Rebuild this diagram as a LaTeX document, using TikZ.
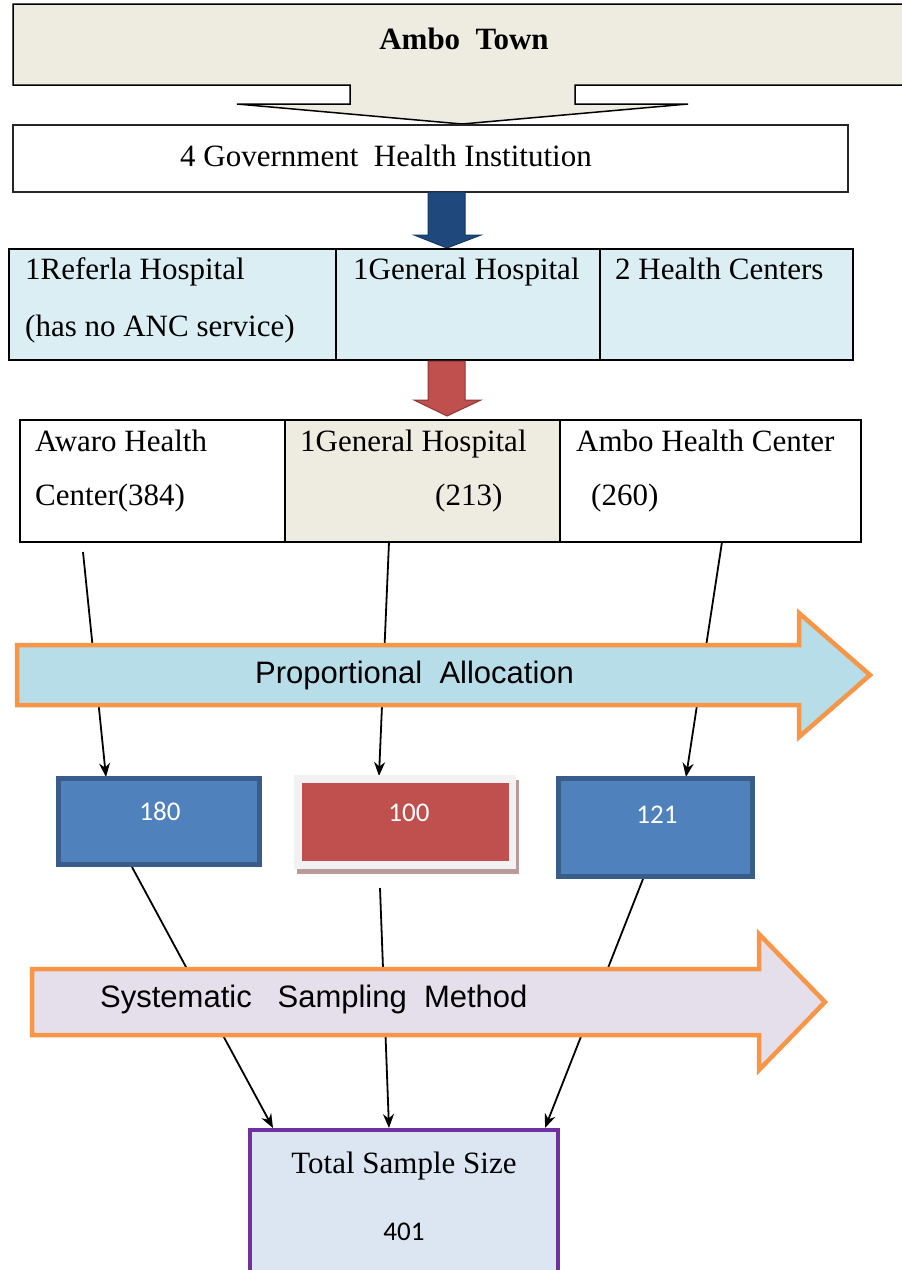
\documentclass[tikz,border=0pt]{standalone}
\usepackage{fontspec}
\setmainfont{Liberation Serif}
\newfontfamily\arialf{Liberation Sans}
\newfontfamily\calibf{Carlito}
\usetikzlibrary{arrows.meta}
\definecolor{ambofill}{HTML}{EEECE1}
\definecolor{rowblue}{HTML}{DAEEF3}
\definecolor{navyfill}{HTML}{1F497D}
\definecolor{navyline}{HTML}{17375E}
\definecolor{redfill}{HTML}{C0504D}
\definecolor{redline}{HTML}{8C3836}
\definecolor{orangeline}{HTML}{F79646}
\definecolor{propfill}{HTML}{B7DDE8}
\definecolor{sysfill}{HTML}{E5DFEC}
\definecolor{smallblue}{HTML}{4F81BD}
\definecolor{smallblueline}{HTML}{385D8A}
\definecolor{framegray}{HTML}{F2F2F2}
\definecolor{shadowpink}{HTML}{B89A9A}
\definecolor{totalfill}{HTML}{DCE6F2}
\definecolor{totalline}{HTML}{7030A0}
\newcommand\serifbig{\fontsize{31}{37}\selectfont}
\newcommand\sansbig{\arialf\fontsize{31}{37}\selectfont}
\newcommand\calibbig{\calibf\fontsize{27}{32}\selectfont}
\begin{document}
\begin{tikzpicture}[x=1pt,y=-1pt,
  cell/.style={draw=black,line width=2pt,inner sep=0,rectangle},
  lbl/.style={inner sep=0,anchor=base west,font=\serifbig},
  clbl/.style={inner sep=0,anchor=base,font=\serifbig},
  numlbl/.style={inner sep=0,anchor=base,font=\calibbig,text=white},
  conn/.style={line width=1.8pt,-{Stealth[length=14pt,width=11pt]}},
  bigarrow/.style={draw=orangeline,line width=4.5pt,line join=miter},
  smallbox/.style={draw=smallblueline,fill=smallblue,line width=5pt,inner sep=0}]
\useasboundingbox (0,0) rectangle (902,1270);
\clip (0,0) rectangle (902,1270);

% Ambo town block arrow
\draw[fill=ambofill,draw=black,line width=1.5pt]
  (13,4) -- (910,4) -- (910,85) -- (575,85) -- (575,104) -- (688,104)
  -- (462,124) -- (237,104) -- (350,104) -- (350,85) -- (13,85) -- cycle;
\node[inner sep=0,anchor=base,font=\serifbig\bfseries] (ambo) at (464,49) {Ambo\ \ Town};

% Government box
\node[cell,draw=black!85,line width=1.5pt,fill=white,minimum width=835pt,minimum height=67pt] (gov) at (430.5,158.5) {};
\node[lbl] (govt) at (180,166) {4 Government\ \ Health Institution};

% navy arrow
\draw[fill=navyfill,draw=navyline,line width=1pt]
  (428,192) -- (465,192) -- (465,235) -- (481,235) -- (447,248) -- (414,235) -- (428,235) -- cycle;

% row 1
\node[cell,fill=rowblue,minimum width=327pt,minimum height=111pt] (r1a) at (172.5,304.5) {};
\node[cell,fill=rowblue,minimum width=264pt,minimum height=111pt] (r1b) at (468,304.5) {};
\node[cell,fill=rowblue,minimum width=253pt,minimum height=111pt] (r1c) at (726.5,304.5) {};
\node[lbl] (r1at) at (25,279) {1Referla Hospital};
\node[lbl] (r1at2) at (25,336) {(has no ANC service)};
\node[lbl] (r1bt) at (353,279) {1General Hospital};
\node[lbl] (r1ct) at (615,279) {2 Health Centers};

% red arrow
\draw[fill=redfill,draw=redline,line width=1pt]
  (428,361) -- (465,361) -- (465,400) -- (481,400) -- (447,416) -- (414,400) -- (428,400) -- cycle;

% row 2
\node[cell,fill=white,minimum width=265pt,minimum height=122pt] (r2a) at (152.5,481) {};
\node[cell,fill=ambofill,minimum width=275pt,minimum height=122pt] (r2b) at (422.5,481) {};
\node[cell,fill=white,minimum width=301pt,minimum height=122pt] (r2c) at (710.5,481) {};
\node[lbl] (r2at) at (35,451) {Awaro Health};
\node[lbl] (r2at2) at (35,505) {Center(384)};
\node[lbl] (r2bt) at (300,451) {1General Hospital};
\node[lbl] (r2bt2) at (435,505) {(213)};
\node[lbl] (r2ct) at (576,451) {Ambo\ Health Center};
\node[lbl] (r2ct2) at (591,505) {(260)};

% connector end points
\coordinate (s1) at (83,552);
\coordinate (s2) at (389,542);
\coordinate (s3) at (722,542);
\coordinate (t1) at (106,777);
\coordinate (t2) at (379,776);
\coordinate (t3) at (686,777);
\coordinate (u1) at (132,867);
\coordinate (u2) at (380,888);
\coordinate (u3) at (643,879);
\coordinate (v1) at (273,1128);
\coordinate (v2) at (389,1128);
\coordinate (v3) at (545,1128);

\draw[conn] (s1) -- (t1);
\draw[conn] (s2) -- (t2);
\draw[conn] (s3) -- (t3);
\draw[conn] (u1) -- (v1);
\draw[conn] (u2) -- (v2);
\draw[conn] (u3) -- (v3);

% proportional allocation arrow
\draw[bigarrow,fill=propfill]
  (17,645) -- (799,645) -- (799,613) -- (870,675) -- (799,737) -- (799,705) -- (17,705) -- cycle;
\node[inner sep=0,anchor=base west,font=\sansbig] (prop) at (255,683) {Proportional\ \ Allocation};

% small boxes
\node[smallbox,minimum width=201pt,minimum height=86pt] (b180) at (159,821.5) {};
\node[numlbl] (n180) at (160,820) {180};
\fill[shadowpink] (297,780) rectangle (519,874);
\node[inner sep=0,fill=framegray,minimum width=222pt,minimum height=94pt] (b100f) at (405,822) {};
\node[inner sep=0,fill=redfill,minimum width=207pt,minimum height=78pt] (b100) at (405.5,822) {};
\node[numlbl] (n100) at (409,821) {100};
\node[smallbox,minimum width=194pt,minimum height=98pt] (b121) at (655.5,827.5) {};
\node[numlbl] (n121) at (657,823) {121};

% systematic sampling arrow
\draw[bigarrow,fill=sysfill]
  (32,969) -- (759,969) -- (759,934) -- (825,1002) -- (759,1070) -- (759,1035) -- (32,1035) -- cycle;
\node[inner sep=0,anchor=base west,font=\sansbig] (sys) at (100,1007) {Systematic\ \ \ Sampling\ \ Method};

% total box
\node[draw=totalline,fill=totalfill,line width=4pt,inner sep=0,minimum width=308pt,minimum height=146pt] (total) at (404,1203) {};
\node[clbl] (totalt) at (404,1173) {Total Sample Size};
\node[inner sep=0,anchor=base,font=\calibbig,text=black] (n401) at (404,1240) {401};
\end{tikzpicture}
\end{document}
